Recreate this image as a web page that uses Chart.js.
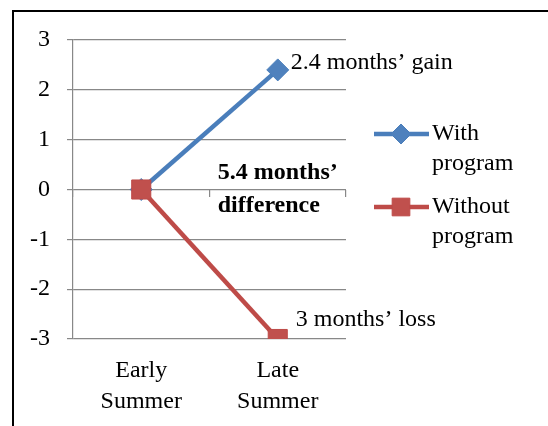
<!DOCTYPE html>
<html>
<head>
<meta charset="utf-8">
<script src="https://cdn.jsdelivr.net/npm/chart.js"></script>
<style>
    html, body { margin: 0; padding: 0; background: #fff; }
    body { width: 548px; height: 426px; position: relative; overflow: hidden; }
    #frame {
        position: absolute; left: 12px; top: 10px;
        width: 600px; height: 500px;
        border-left: 2px solid #000; border-top: 2px solid #000;
    }
    #chart { position: absolute; left: 0; top: 0; }
</style>
</head>
<body>
<div id="frame"></div>
<canvas id="chart" width="548" height="426"></canvas>
<script>
const categories = [['Early', 'Summer'], ['Late', 'Summer']];
const withProgram = [0, 2.4];
const withoutProgram = [0, -3];
const seriesNames = [['With', 'program'], ['Without', 'program']];
const yTicks = [3, 2, 1, 0, -1, -2, -3];
const gainNote = '2.4 months\u2019 gain';
const lossNote = '3 months\u2019 loss';
const diffNote = ['5.4 months\u2019', 'difference'];

const FONT = '"Liberation Serif", "Times New Roman", serif';
const BLUE = '#4A7EBB';
const BLUE_FILL = '#4F81BD';
const RED = '#BE4B48';
const RED_FILL = '#C0504D';
const GRID = '#888888';

function marker(ctx, style, x, y, r, fill, stroke) {
    ctx.save();
    ctx.fillStyle = fill;
    ctx.strokeStyle = stroke;
    ctx.lineWidth = 1;
    ctx.beginPath();
    if (style === 'rect') {
        const s = r * Math.SQRT1_2;
        ctx.rect(x - s, y - s, 2 * s, 2 * s);
    } else {
        ctx.moveTo(x - r, y);
        ctx.lineTo(x, y - r);
        ctx.lineTo(x + r, y);
        ctx.lineTo(x, y + r);
        ctx.closePath();
    }
    ctx.fill();
    ctx.stroke();
    ctx.restore();
}

// legend drawn on the canvas from the dataset styles
const sideLegend = {
    id: 'sideLegend',
    afterDraw(chart) {
        const ctx = chart.ctx;
        const rows = [134, 207];
        ctx.save();
        chart.data.datasets.forEach((ds, i) => {
            const y = rows[i];
            ctx.strokeStyle = ds.borderColor;
            ctx.lineWidth = ds.borderWidth;
            ctx.beginPath();
            ctx.moveTo(374, y);
            ctx.lineTo(429, y);
            ctx.stroke();
            marker(ctx, ds.pointStyle, 401, y, ds.pointStyle === 'rect' ? 12.5 : 10,
                ds.pointBackgroundColor, ds.pointBorderColor);
            ctx.fillStyle = '#000';
            ctx.font = '24px ' + FONT;
            ctx.textBaseline = 'middle';
            ctx.textAlign = 'left';
            seriesNames[i].forEach((line, j) => ctx.fillText(line, 432, y + j * 30));
        });
        ctx.restore();
    }
};

// text notes placed next to the data points
const notes = {
    id: 'notes',
    afterDatasetsDraw(chart) {
        const ctx = chart.ctx;
        const x = chart.scales.x;
        const y = chart.scales.y;
        const xLate = x.getPixelForValue(1);
        ctx.save();
        ctx.fillStyle = '#000';
        ctx.textBaseline = 'middle';
        ctx.textAlign = 'left';
        ctx.font = '24px ' + FONT;
        ctx.fillText(gainNote, xLate + 13, y.getPixelForValue(withProgram[1]) - 7);
        ctx.fillText(lossNote, xLate + 18, y.getPixelForValue(withoutProgram[1]) - 19);
        ctx.font = 'bold 24px ' + FONT;
        const y0 = y.getPixelForValue(0);
        ctx.fillText(diffNote[0], xLate - 60, y0 - 17);
        ctx.fillText(diffNote[1], xLate - 60, y0 + 16);
        ctx.restore();
    }
};

new Chart(document.getElementById('chart'), {
    type: 'line',
    data: {
        labels: categories,
        datasets: [
            {
                label: 'With program',
                data: withProgram,
                borderColor: BLUE,
                borderWidth: 4.5,
                pointStyle: 'rectRot',
                pointRadius: 11,
                pointBackgroundColor: BLUE_FILL,
                pointBorderColor: BLUE,
                pointBorderWidth: 1,
                order: 2
            },
            {
                label: 'Without program',
                data: withoutProgram,
                borderColor: RED,
                borderWidth: 4.5,
                pointStyle: 'rect',
                pointRadius: 13.5,
                pointBackgroundColor: RED_FILL,
                pointBorderColor: RED,
                pointBorderWidth: 1,
                order: 1
            }
        ]
    },
    options: {
        responsive: false,
        animation: false,
        devicePixelRatio: 1,
        layout: { padding: { left: 0, top: 40, right: 202, bottom: 0 } },
        plugins: {
            legend: { display: false },
            tooltip: { enabled: false }
        },
        scales: {
            x: {
                offset: true,
                grid: { display: false },
                border: { display: false },
                ticks: {
                    color: '#000',
                    padding: 8,
                    font: { family: FONT, size: 24, lineHeight: 1.3 },
                    maxRotation: 0
                },
                afterFit: (s) => { s.height = 87; }
            },
            x2: {
                type: 'category',
                axis: 'x',
                labels: categories,
                position: { y: 0 },
                offset: true,
                grid: {
                    display: true,
                    offset: true,
                    drawOnChartArea: false,
                    drawTicks: true,
                    tickLength: 7,
                    color: GRID,
                    lineWidth: 1.2
                },
                border: { display: false },
                ticks: { display: false }
            },
            y: {
                min: -3,
                max: 3,
                afterBuildTicks: (s) => { s.ticks = yTicks.map(v => ({ value: v })); },
                grid: { color: GRID, lineWidth: 1.2, drawTicks: true, tickLength: 6 },
                border: { display: true, color: GRID, width: 1.2 },
                ticks: {
                    color: '#000',
                    padding: 17,
                    font: { family: FONT, size: 24 }
                },
                afterFit: (s) => { s.width = 73; }
            }
        }
    },
    plugins: [notes, sideLegend]
});
</script>
</body>
</html>
